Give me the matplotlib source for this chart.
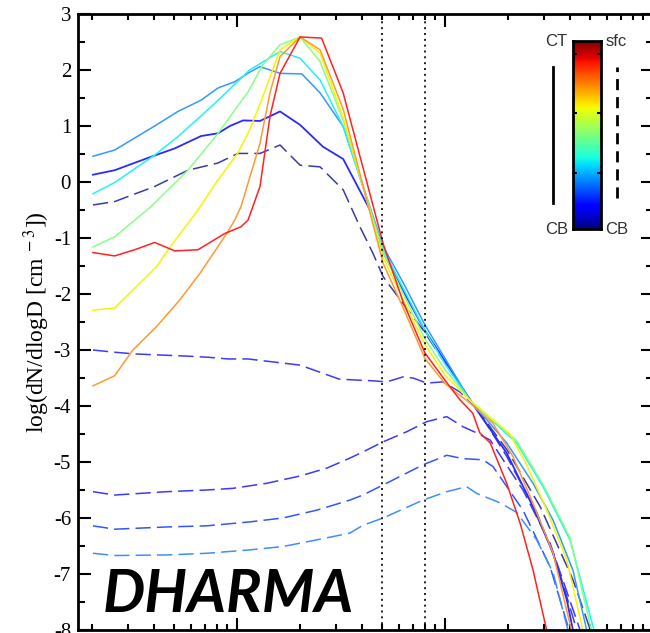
import matplotlib.pyplot as plt
import numpy as np

# drop diameter (micron) and log10(dN/dlogD)
# solid lines: in-cloud levels (CB -> CT)
bl_d = [2.03, 2.58, 3.86, 5.02, 6.71, 8.11, 9.25, 10.7, 12.9, 16.1, 20.1, 25.9, 32.4, 43.6, 50.4, 63, 80, 100, 132, 198, 265, 331, 385, 412]
bl_y = [0.13, 0.21, 0.45, 0.6, 0.82, 0.87, 1.0, 1.1, 1.09, 1.26, 1.02, 0.63, 0.41, -0.5, -1.25, -1.95, -2.65, -3.2, -3.9, -4.84, -5.8, -6.63, -7.46, -8.0]

lb_d = [2.03, 2.58, 4.02, 5.2, 6.71, 8.11, 9.75, 11.5, 12.9, 16.1, 20.5, 25.1, 32.4, 50.4, 63, 80, 100, 132, 198, 265, 331, 412, 480]
lb_y = [0.46, 0.57, 1.0, 1.26, 1.46, 1.68, 1.79, 1.96, 2.06, 1.94, 1.93, 1.59, 0.99, -1.15, -1.8, -2.55, -3.15, -3.9, -4.66, -5.38, -6.04, -6.93, -8.0]

cy_d = [2.03, 2.58, 4.02, 5.2, 7.5, 11.5, 16.1, 20.1, 25.1, 32.4, 50.4, 63, 80, 100, 132, 221, 296, 399, 520]
cy_y = [-0.21, -0.01, 0.48, 0.81, 1.34, 2.0, 2.33, 2.21, 1.82, 0.99, -1.2, -1.9, -2.65, -3.25, -3.9, -4.66, -5.44, -6.39, -8.0]

gr_d = [2.03, 2.58, 3.86, 5.81, 8.11, 11.3, 13.3, 16.1, 20.1, 25.1, 32.4, 50.4, 63, 80, 100, 132, 221, 296, 399, 505]
gr_y = [-1.16, -0.98, -0.44, 0.21, 0.87, 1.61, 2.09, 2.45, 2.59, 2.15, 1.1, -1.25, -2.0, -2.8, -3.35, -3.9, -4.62, -5.4, -6.35, -8.0]

ye_d = [2.03, 2.58, 4.11, 4.66, 6.49, 8.11, 10.1, 11.5, 13.3, 16.1, 20.1, 25.1, 32.4, 50.4, 63, 80, 100, 132, 205, 247, 308, 385, 460]
ye_y = [-2.29, -2.25, -1.51, -1.21, -0.5, 0.04, 0.52, 0.93, 1.52, 2.36, 2.59, 2.3, 1.15, -1.35, -2.1, -2.9, -3.45, -3.9, -4.5, -5.05, -5.85, -6.75, -8.0]

or_d = [2.03, 2.58, 3.16, 4.11, 5.32, 6.64, 8.92, 9.75, 10.45, 11.3, 12.9, 14.4, 16.1, 20.1, 25.1, 32.4, 50.4, 63, 80, 100, 132, 170, 212, 265, 331, 405]
or_y = [-3.64, -3.46, -3.0, -2.58, -2.1, -1.63, -0.92, -0.68, -0.44, -0.02, 0.69, 1.59, 2.24, 2.59, 2.36, 1.3, -1.45, -2.25, -3.15, -3.6, -3.95, -4.31, -4.9, -5.74, -6.63, -8.0]

rd_d = [2.03, 2.58, 3.22, 4.02, 5.02, 6.49, 8.73, 10.45, 11.3, 12.9, 14.4, 16.1, 20.1, 25.5, 32.4, 50.4, 63, 80, 100, 118, 136, 147, 165, 198, 230, 265, 308]
rd_y = [-1.26, -1.32, -1.21, -1.08, -1.23, -1.21, -0.92, -0.8, -0.68, -0.08, 1.17, 1.94, 2.59, 2.57, 1.59, -1.1, -2.15, -3.05, -3.54, -3.89, -4.13, -4.48, -4.66, -5.38, -6.1, -6.93, -8.0]

# dashed lines: below cloud (CB -> sfc)
dd_d = [2.03, 2.58, 4.02, 5.81, 8.11, 10.1, 12.9, 16.1, 20.1, 25.1, 32.4, 39, 45, 50.4, 60.8, 78.4, 97.8, 136, 200, 287, 412, 500]
dd_y = [-0.41, -0.35, -0.08, 0.21, 0.34, 0.51, 0.51, 0.66, 0.3, 0.27, -0.14, -0.8, -1.27, -1.69, -2.1, -2.64, -3.18, -3.95, -4.8, -5.8, -7.1, -8.0]

d3_d = [2.03, 2.58, 3.22, 4.31, 5.81, 7.3, 9.05, 11.3, 20.1, 31, 39, 45, 52.5, 62.8, 70.2, 81.6, 97.8, 118, 140, 198, 276, 344, 430]
d3_y = [-3.0, -3.04, -3.07, -3.09, -3.11, -3.13, -3.16, -3.16, -3.27, -3.52, -3.54, -3.55, -3.57, -3.48, -3.5, -3.59, -3.57, -3.75, -4.0, -4.9, -5.9, -6.8, -8.0]

d5_d = [2.03, 2.58, 4.59, 7.15, 9.57, 13.9, 20.1, 27, 34.9, 40.3, 50.4, 65.4, 81.6, 102, 122, 142, 165, 237, 320, 446]
d5_y = [-5.53, -5.59, -5.53, -5.5, -5.47, -5.38, -5.25, -5.11, -4.93, -4.82, -4.64, -4.46, -4.28, -4.19, -4.37, -4.48, -4.61, -5.5, -6.45, -8.0]

d6_d = [2.03, 2.58, 4.59, 7.15, 11.5, 16.6, 24.2, 34.9, 40.3, 50.4, 78.4, 102, 122, 152, 170, 237, 320, 395]
d6_y = [-6.14, -6.2, -6.16, -6.14, -6.07, -6.0, -5.86, -5.68, -5.59, -5.41, -5.05, -4.88, -4.94, -4.96, -5.08, -5.86, -6.87, -8.0]

d7_d = [2.03, 2.58, 4.59, 7.15, 11.5, 16.6, 24.2, 34.9, 40.3, 50.4, 78.4, 102, 127, 142, 184, 221, 276, 331, 390]
d7_y = [-6.63, -6.67, -6.66, -6.63, -6.57, -6.51, -6.39, -6.27, -6.13, -6.0, -5.68, -5.53, -5.44, -5.56, -5.73, -5.9, -6.39, -6.98, -8.0]

cutoffs = [50, 80]  # dotted lines
yticks = list(range(-8, 4))

plt.rcParams['font.family'] = 'serif'
plt.rcParams['font.serif'] = ['Liberation Serif', 'DejaVu Serif']
plt.rcParams['mathtext.fontset'] = 'stix'
plt.rcParams['axes.unicode_minus'] = False

fig = plt.figure(figsize=(6.5, 6.33), dpi=100)
ax = fig.add_axes([78 / 650, 3 / 633, 575 / 650, 616 / 633])

dash = (10, 4)
ax.plot(dd_d, dd_y, color='#3a3aa8', lw=1.1, dashes=dash)
ax.plot(d3_d, d3_y, color='#3c3cf5', lw=1.1, dashes=dash)
ax.plot(d5_d, d5_y, color='#3a3aff', lw=1.1, dashes=dash)
ax.plot(d6_d, d6_y, color='#3355ff', lw=1.1, dashes=dash)
ax.plot(d7_d, d7_y, color='#3d8eff', lw=1.1, dashes=dash)

ax.plot(bl_d, bl_y, color='#2a2aff', lw=1.3)
ax.plot(lb_d, lb_y, color='#3399ff', lw=1.1)
ax.plot(cy_d, cy_y, color='#22f0ff', lw=1.1)
ax.plot(gr_d, gr_y, color='#88ff88', lw=1.1)
ax.plot(ye_d, ye_y, color='#f5f500', lw=1.1)
ax.plot(or_d, or_y, color='#ff9933', lw=1.1)
ax.plot(rd_d, rd_y, color='#ff2222', lw=1.1)

for c in cutoffs:
    ax.axvline(c, color='black', lw=1.2, dashes=(1.2, 2.3))

ax.set_xscale('log')
ax.set_xlim(1.72, 1000)
ax.set_ylim(-8, 3)
ax.set_yticks(yticks)
ax.set_yticks(np.arange(-8, 3, 0.5), minor=True)
ax.tick_params(which='both', direction='in', top=True, right=True, width=1.5)
ax.tick_params(which='major', length=9, labelsize=15, pad=5)
ax.tick_params(axis='y', which='minor', length=5)
ax.tick_params(axis='x', which='minor', length=4)
ax.tick_params(axis='x', labelbottom=False)
for s in ax.spines.values():
    s.set_linewidth(2)
ax.set_ylabel(r'log(dN/dlogD [cm$^{\ -3}$])', fontsize=17, labelpad=1)

fig.text(103 / 650, 0.033, 'DHARMA', fontsize=43, fontweight='bold',
         fontstyle='italic', family='Lato')

# colour bar key
cax = fig.add_axes([573 / 650, 404 / 633, 28 / 650, 188 / 633])
cax.imshow(np.linspace(0, 1, 256)[:, None], aspect='auto', cmap='jet', origin='lower',
           extent=[0, 1, 0, 1])
cax.set_xticks([])
cax.set_yticks([0.3, 0.615, 0.93])
cax.set_yticklabels([])
cax.tick_params(axis='y', direction='in', length=3, width=1.5, left=True, right=True)
for s in cax.spines.values():
    s.set_linewidth(2)
cax.plot([-0.7, -0.7], [0.14, 0.86], color='black', lw=2, transform=cax.transAxes, clip_on=False)
cax.plot([1.57, 1.57], [0.165, 0.86], color='black', lw=2, dashes=(4, 2.5),
         transform=cax.transAxes, clip_on=False)
kw = dict(fontsize=12, family='Liberation Sans', color='#303030', ha='center', va='center',
          transform=cax.transAxes)
cax.text(-0.6, 1.0, 'CT', **kw)
cax.text(1.55, 1.0, 'sfc', **kw)
cax.text(-0.6, 0.0, 'CB', **kw)
cax.text(1.55, 0.0, 'CB', **kw)

fig.savefig('out.png', dpi=100)
